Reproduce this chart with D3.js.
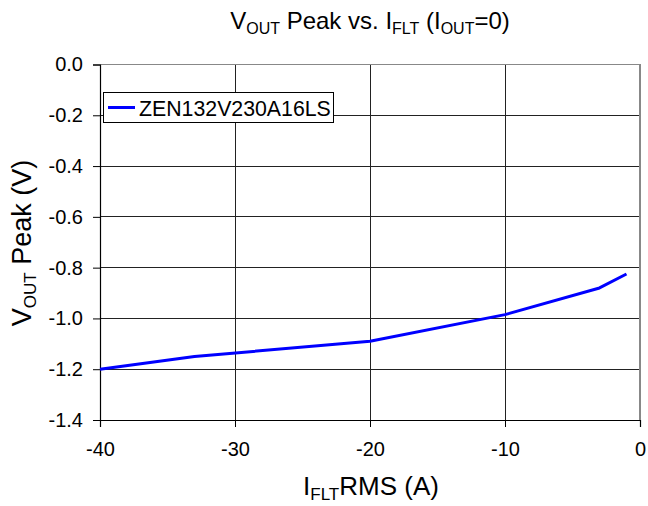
<!DOCTYPE html>
<html><head><meta charset="utf-8">
<script src="https://cdn.jsdelivr.net/npm/d3@7"></script>
<style>body{margin:0;background:#fff}svg{display:block}text{font-family:"Liberation Sans",Arial,sans-serif;fill:#000}</style>
</head><body>
<script>
const xValues = [-40, -33, -20, -10, -3, -1];
const yValues = [-1.20, -1.15, -1.09, -0.985, -0.88, -0.825];
const xTicks = [-40, -30, -20, -10, 0];
const yTicks = [0, -0.2, -0.4, -0.6, -0.8, -1.0, -1.2, -1.4];
const seriesName = "ZEN132V230A16LS";

const W = 648, H = 506;
const svg = d3.select("body").append("svg").attr("width", W).attr("height", H);
const x = d3.scaleLinear().domain([-40, 0]).range([100, 640]);
const y = d3.scaleLinear().domain([-1.4, 0]).range([420, 64.5]);

// gridlines
svg.append("g").selectAll("line").data(xTicks.slice(1, -1)).join("line")
  .attr("x1", d => x(d)).attr("x2", d => x(d)).attr("y1", y(0)).attr("y2", y(-1.4))
  .attr("stroke", "#222").attr("stroke-width", 1).attr("shape-rendering", "crispEdges");
svg.append("g").selectAll("line").data(yTicks.slice(1, -1)).join("line")
  .attr("x1", x(-40)).attr("x2", x(0)).attr("y1", d => y(d)).attr("y2", d => y(d))
  .attr("stroke", "#222").attr("stroke-width", 1).attr("shape-rendering", "crispEdges");
// top/right border gray
svg.append("path").attr("d", `M${x(-40)},${y(0)}H${x(0)}V${y(-1.4)}`)
  .attr("fill", "none").attr("stroke", "#888").attr("stroke-width", 1.5).attr("shape-rendering", "crispEdges");

// axes
const xAxis = d3.axisBottom(x).tickValues(xTicks).tickSize(7).tickPadding(15).tickFormat(d3.format("d"));
const gx = svg.append("g").attr("transform", `translate(0,${y(-1.4)})`).call(xAxis);
const yAxis = d3.axisLeft(y).tickValues(yTicks).tickSize(7).tickPadding(10).tickFormat(d => d3.format(".1f")(d));
const gy = svg.append("g").attr("transform", `translate(${x(-40)},0)`).call(yAxis);
[gx, gy].forEach(g => {
  g.select(".domain").attr("stroke", "#000").attr("stroke-width", 1.2);
  g.selectAll(".tick line").attr("stroke", "#000").attr("stroke-width", 1);
  g.selectAll(".tick text").attr("font-size", 20).attr("font-family", '"Liberation Sans",Arial,sans-serif').attr("fill", "#000")
    .text(function() { return this.textContent.replace("\u2212", "-"); });
});

// line
const line = d3.line().x((d, i) => x(xValues[i])).y(d => y(d));
svg.append("path").datum(yValues).attr("d", line)
  .attr("fill", "none").attr("stroke", "#0000ff").attr("stroke-width", 3).attr("stroke-linejoin", "round");

// title
const t = svg.append("text").attr("x", 370).attr("y", 29).attr("text-anchor", "middle").attr("font-size", 24);
t.append("tspan").text("V");
t.append("tspan").attr("font-size", 16).attr("dy", 5).text("OUT");
t.append("tspan").attr("dy", -5).text(" Peak vs. I");
t.append("tspan").attr("font-size", 16).attr("dy", 5).text("FLT");
t.append("tspan").attr("dy", -5).text(" (I");
t.append("tspan").attr("font-size", 16).attr("dy", 5).text("OUT");
t.append("tspan").attr("dy", -5).text("=0)");

// x label
const xl = svg.append("text").attr("x", 371).attr("y", 495).attr("text-anchor", "middle").attr("font-size", 26);
xl.append("tspan").text("I");
xl.append("tspan").attr("font-size", 17).attr("dy", 5).text("FLT");
xl.append("tspan").attr("dy", -5).text("RMS (A)");

// y label
const yl = svg.append("text").attr("transform", "translate(31,243) rotate(-90)").attr("text-anchor", "middle").attr("font-size", 27);
yl.append("tspan").text("V");
yl.append("tspan").attr("font-size", 17).attr("dy", 5).text("OUT");
yl.append("tspan").attr("dy", -5).text(" Peak (V)");

// legend
const lg = svg.append("g");
lg.append("rect").attr("x", 103.5).attr("y", 92.5).attr("width", 230).attr("height", 30)
  .attr("fill", "#fff").attr("stroke", "#000").attr("stroke-width", 1);
lg.append("line").attr("x1", 108).attr("x2", 135).attr("y1", 107.5).attr("y2", 107.5)
  .attr("stroke", "#0000ff").attr("stroke-width", 3);
lg.append("text").attr("x", 139).attr("y", 115.5).attr("font-size", 21.3).text(seriesName);
</script>
</body></html>
